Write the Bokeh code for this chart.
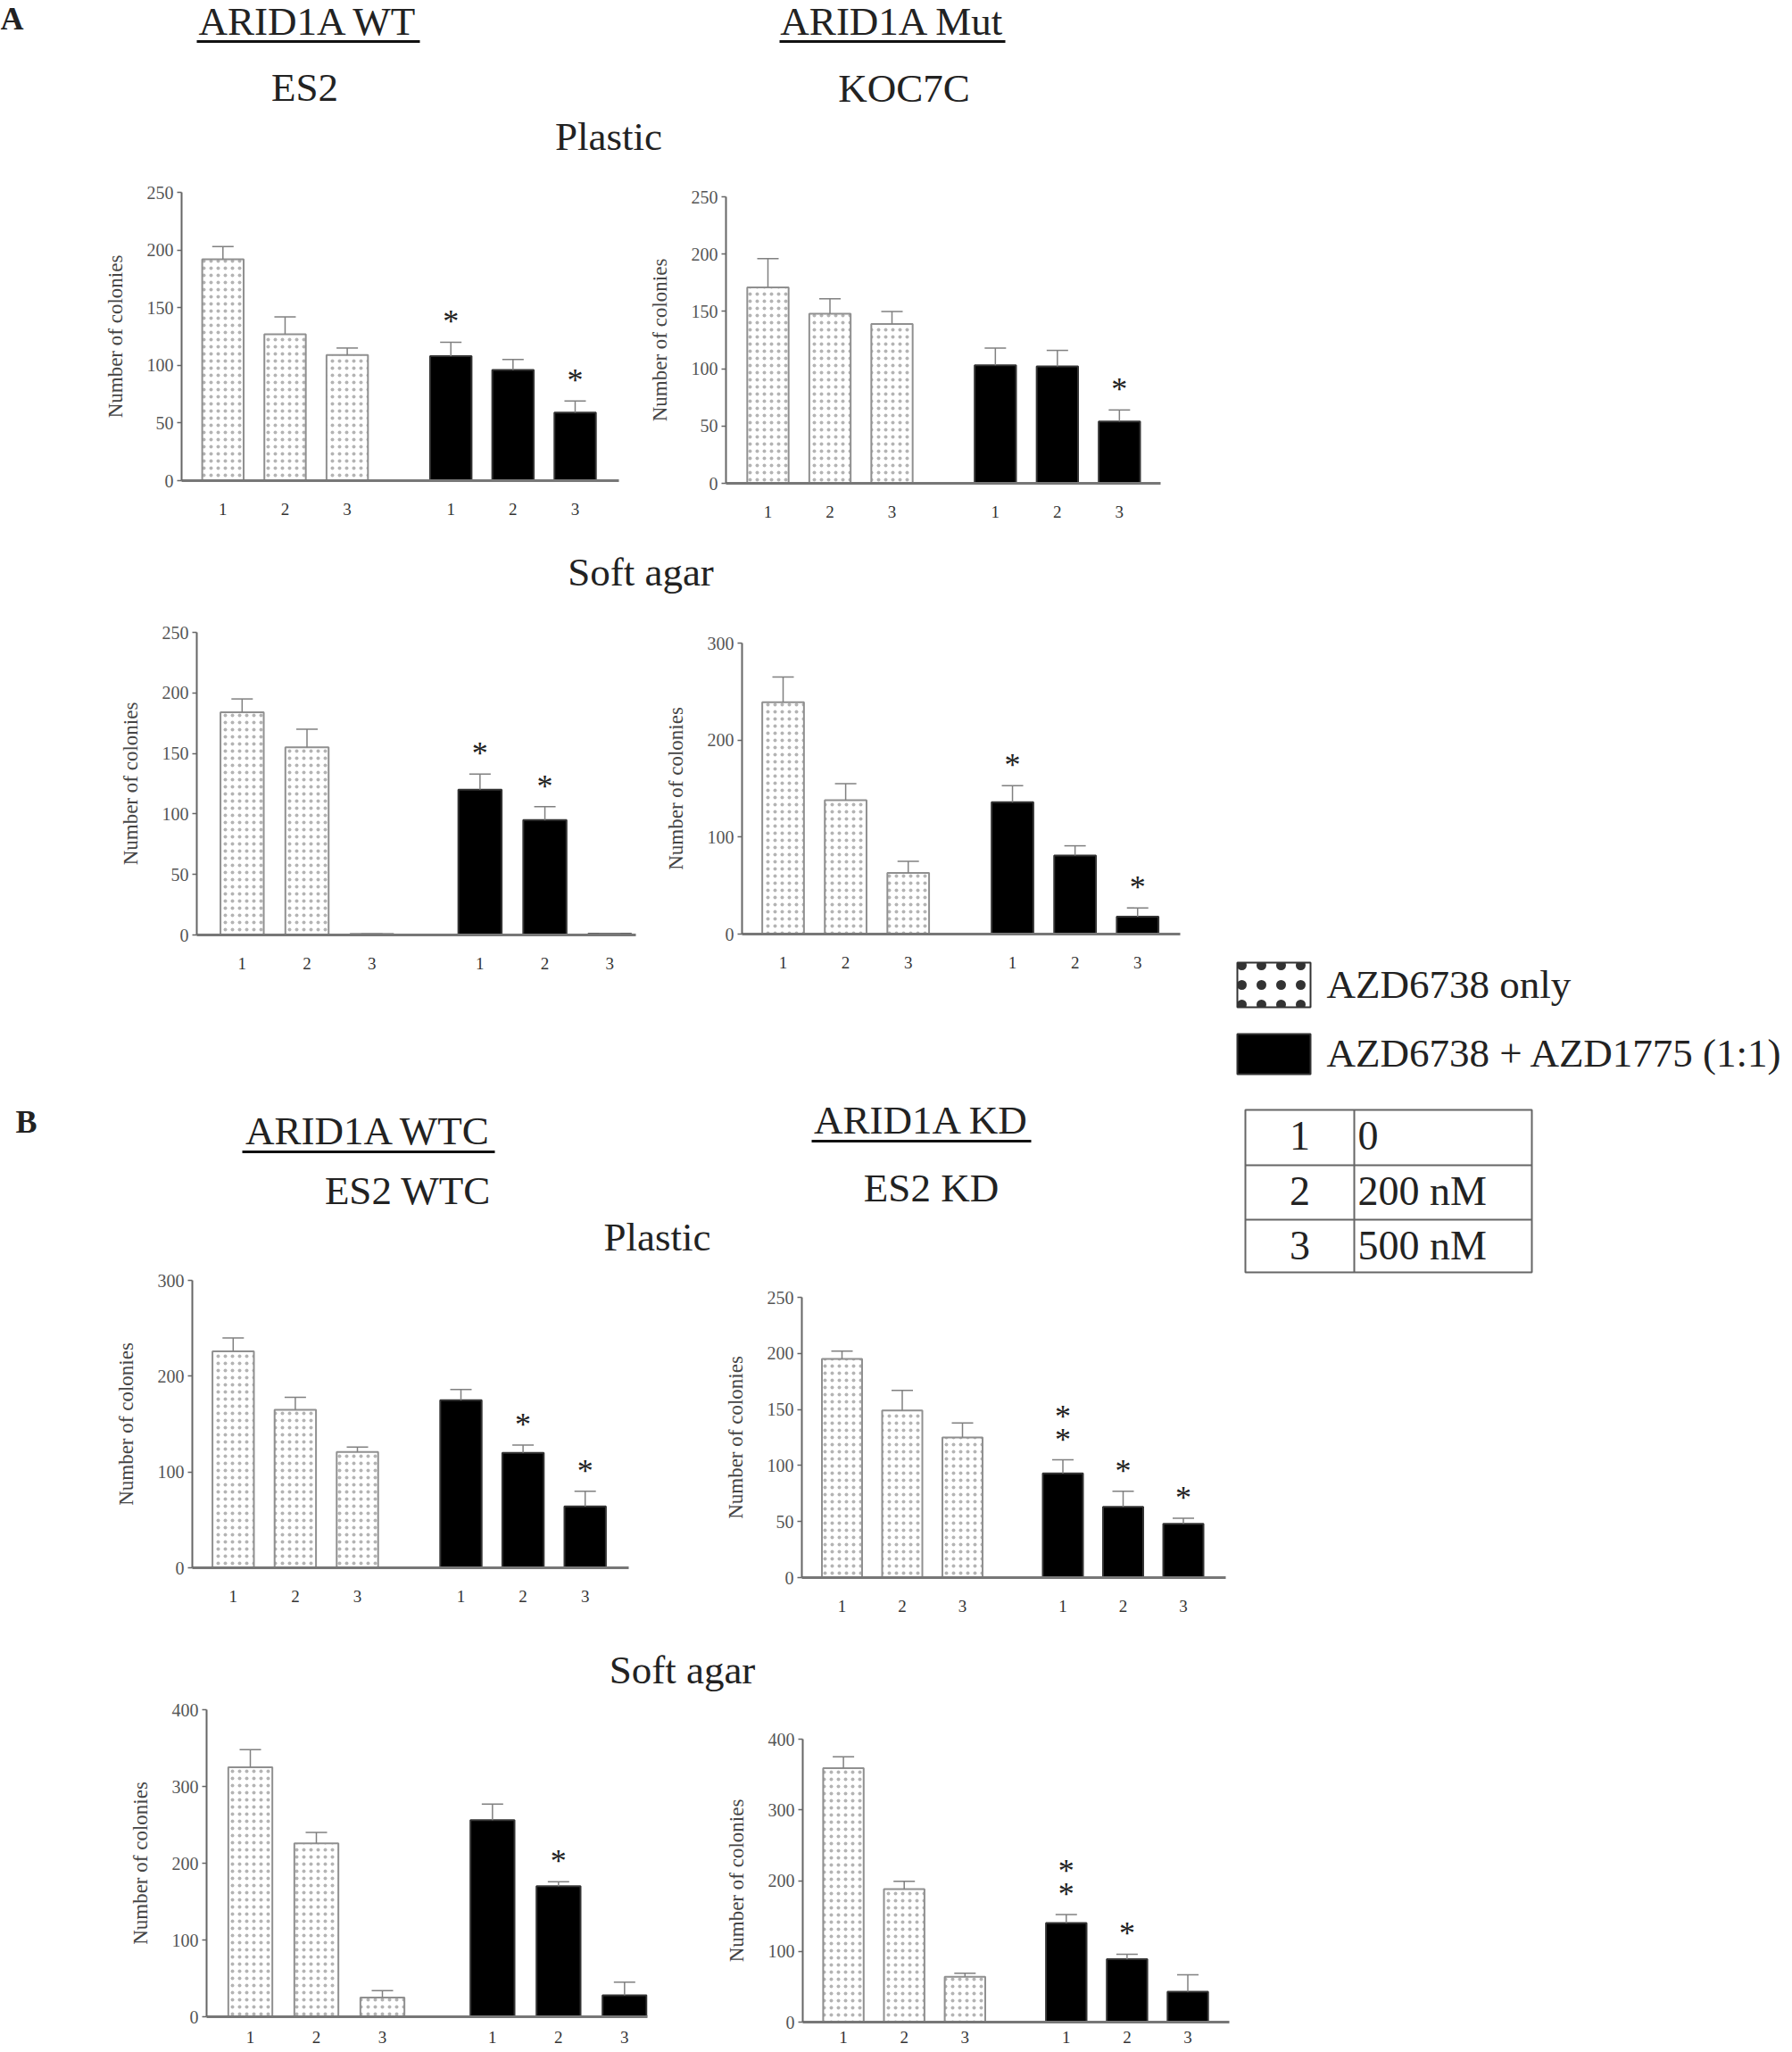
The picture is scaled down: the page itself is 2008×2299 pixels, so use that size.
from bokeh.plotting import figure
from bokeh.models import Range1d, FixedTicker, ColumnDataSource, Whisker, TeeHead, Spacer
from bokeh.layouts import row, column
from bokeh.embed import file_html
from bokeh.resources import INLINE
from bokeh.core.properties import value

FONT = "Liberation Serif"

# ---------------- data ----------------
doses = ["1", "2", "3"]
dose_values = ["0", "200 nM", "500 nM"]
treatments = ["AZD6738 only", "AZD6738 + AZD1775 (1:1)"]

# A: ES2 (ARID1A WT) plastic
es2_plastic_only = [192, 127, 109]
es2_plastic_only_err = [11, 15, 6]
es2_plastic_combo = [108, 96, 59]
es2_plastic_combo_err = [12, 9, 10]
es2_plastic_stars = [0, 0, 0, 1, 0, 1]

# A: KOC7C (ARID1A Mut) plastic
koc7c_plastic_only = [171, 148, 139]
koc7c_plastic_only_err = [25, 13, 11]
koc7c_plastic_combo = [103, 102, 54]
koc7c_plastic_combo_err = [15, 14, 10]
koc7c_plastic_stars = [0, 0, 0, 0, 0, 1]

# A: ES2 soft agar
es2_soft_only = [184, 155, 1]
es2_soft_only_err = [11, 15, 0]
es2_soft_combo = [120, 95, 1]
es2_soft_combo_err = [13, 11, 0]
es2_soft_stars = [0, 0, 0, 1, 1, 0]

# A: KOC7C soft agar
koc7c_soft_only = [239, 138, 63]
koc7c_soft_only_err = [26, 17, 12]
koc7c_soft_combo = [136, 81, 18]
koc7c_soft_combo_err = [17, 10, 9]
koc7c_soft_stars = [0, 0, 0, 1, 0, 1]

# B: ES2 WTC plastic
wtc_plastic_only = [226, 165, 121]
wtc_plastic_only_err = [14, 13, 5]
wtc_plastic_combo = [175, 120, 64]
wtc_plastic_combo_err = [11, 8, 16]
wtc_plastic_stars = [0, 0, 0, 0, 1, 1]

# B: ES2 KD plastic
kd_plastic_only = [195, 149, 125]
kd_plastic_only_err = [7, 18, 13]
kd_plastic_combo = [93, 63, 48]
kd_plastic_combo_err = [12, 14, 5]
kd_plastic_stars = [0, 0, 0, 2, 1, 1]

# B: ES2 WTC soft agar
wtc_soft_only = [325, 226, 25]
wtc_soft_only_err = [23, 14, 9]
wtc_soft_combo = [256, 170, 28]
wtc_soft_combo_err = [21, 6, 17]
wtc_soft_stars = [0, 0, 0, 0, 1, 0]

# B: ES2 KD soft agar
kd_soft_only = [359, 188, 64]
kd_soft_only_err = [16, 11, 5]
kd_soft_combo = [140, 89, 43]
kd_soft_combo_err = [12, 7, 24]
kd_soft_stars = [0, 0, 0, 2, 1, 0]

X_POS = [3, 6, 9, 14, 17, 20]
TOP_BORDER = 15


def base_fig(w, h, xr, yr, **kw):
    p = figure(width=w, height=h, x_range=xr, y_range=yr, output_backend="svg",
               toolbar_location=None, title=None, **kw)
    p.outline_line_color = None
    p.background_fill_color = "white"
    p.border_fill_color = "white"
    return p


def panel(only, only_err, combo, combo_err, stars, ymax, ystep, geo,
          col_left, col_right, band_top, band_bottom, bottom_border=55, xstand=25):
    L, R, c1, s, top, y0 = geo
    x0 = X_POS[0] - (c1 - L) / s * 3
    x1 = X_POS[0] + (R - c1) / s * 3
    fig_h = TOP_BORDER + (y0 - top) + bottom_border
    p = base_fig(col_right - col_left, fig_h, Range1d(x0, x1), Range1d(0, ymax),
                 min_border_left=L - col_left, min_border_right=col_right - R,
                 min_border_top=TOP_BORDER, min_border_bottom=bottom_border)
    p.grid.visible = False

    src_only = ColumnDataSource(dict(x=X_POS[:3], top=only,
                                     up=[v + e for v, e in zip(only, only_err)]))
    src_combo = ColumnDataSource(dict(x=X_POS[3:], top=combo,
                                      up=[v + e for v, e in zip(combo, combo_err)]))
    for src in (src_only, src_combo):
        p.add_layout(Whisker(base="x", lower="top", upper="up", source=src,
                             lower_head=None,
                             upper_head=TeeHead(size=24, line_color="#808080", line_width=1.5),
                             line_color="#808080", line_width=1.5, level="glyph"))
    p.vbar(x="x", top="top", bottom=0, width=2, source=src_only,
           fill_color="white", line_color="#909090", line_width=2,
           hatch_pattern="dot", hatch_scale=8, hatch_weight=1, hatch_color="#b4b4b4")
    p.vbar(x="x", top="top", bottom=0, width=2, source=src_combo,
           fill_color="black", line_color="#333", line_width=2)

    ups = [v + e for v, e in zip(only + combo, only_err + combo_err)]
    sx, sy, so = [], [], []
    for xv, uv, n in zip(X_POS, ups, stars):
        for k in range(n):
            sx.append(xv)
            sy.append(uv)
            so.append(-23 - 26 * k)
    p.text(x="x", y="y", y_offset="off", text="t",
           source=ColumnDataSource(dict(x=sx, y=sy, off=so, t=["*"] * len(sx))),
           text_font=value(FONT), text_font_size="36px", text_align="center",
           text_baseline="alphabetic", text_color="#222")

    xa = p.xaxis[0]
    xa.ticker = FixedTicker(ticks=X_POS)
    xa.major_label_overrides = {xv: d for xv, d in zip(X_POS, doses * 2)}
    xa.major_tick_line_color = None
    xa.major_tick_out = 0
    xa.major_tick_in = 0
    xa.minor_tick_line_color = None
    xa.axis_line_width = 3
    xa.axis_line_color = "#777"
    xa.major_label_text_font = FONT
    xa.major_label_text_font_size = "19px"
    xa.major_label_text_color = "#333"
    xa.major_label_standoff = xstand

    ya = p.yaxis[0]
    ya.ticker = FixedTicker(ticks=list(range(0, ymax + 1, ystep)))
    ya.minor_tick_line_color = None
    ya.major_tick_out = 5
    ya.major_tick_in = 0
    ya.major_tick_line_color = "#666"
    ya.major_tick_line_width = 1.5
    ya.axis_line_color = "#666"
    ya.axis_line_width = 2
    ya.major_label_text_font = FONT
    ya.major_label_text_font_size = "20px"
    ya.major_label_text_color = "#555"
    ya.major_label_standoff = 4
    ya.axis_label = "Number of colonies"
    ya.axis_label_text_font = FONT
    ya.axis_label_text_font_size = "23px"
    ya.axis_label_text_font_style = "normal"
    ya.axis_label_text_color = "#444"
    ya.axis_label_standoff = 20

    w = col_right - col_left
    above = top - TOP_BORDER - band_top
    below = band_bottom - (y0 + bottom_border)
    kids = []
    if above > 0:
        kids.append(Spacer(width=w, height=above))
    kids.append(p)
    if below > 0:
        kids.append(Spacer(width=w, height=below))
    return column(*kids)


def text_band(xl, xr, yt, yb):
    p = base_fig(xr - xl, yb - yt, Range1d(xl, xr), Range1d(yb, yt),
                 x_axis_type=None, y_axis_type=None,
                 min_border_left=0, min_border_right=0, min_border_top=0, min_border_bottom=0)
    p.grid.visible = False
    return p


def add_texts(p, xs, baselines, texts, size=45, align="center", style="normal"):
    # the renderer draws "alphabetic" text about 0.4 em low; compensate
    ys = [b - 0.4 * size for b in baselines]
    p.text(x=xs, y=ys, text=texts, text_font=value(FONT), text_font_size=f"{size}px",
           text_align=align, text_baseline="alphabetic", text_color="#222",
           text_font_style=style)


LEFT_X0, LEFT_X1 = 0, 1380

# header A
hA = text_band(LEFT_X0, LEFT_X1, 0, 195)
add_texts(hA, [0], [35], ["A"], size=36, align="left", style="bold")
add_texts(hA, [345, 999.5, 341, 1012.5, 681.5], [41, 41, 115, 116, 170],
          ["ARID1A WT", "ARID1A Mut", "ES2", "KOC7C", "Plastic"])
hA.segment(x0=[220, 873], y0=[46, 46], x1=[470, 1126], y1=[46, 46], line_width=3, line_color="#111")

# row A plastic
A1 = panel(es2_plastic_only, es2_plastic_only_err, es2_plastic_combo, es2_plastic_combo_err,
           es2_plastic_stars, 250, 50, (203, 693, 249.3, 69.65, 215, 538), 0, 700, 195, 600)
A2 = panel(koc7c_plastic_only, koc7c_plastic_only_err, koc7c_plastic_combo, koc7c_plastic_combo_err,
           koc7c_plastic_stars, 250, 50, (813, 1300, 860, 69.5, 220, 541), 700, 1380, 195, 600)

sA = text_band(LEFT_X0, LEFT_X1, 600, 690)
add_texts(sA, [717.5], [658], ["Soft agar"])

A3 = panel(es2_soft_only, es2_soft_only_err, es2_soft_combo, es2_soft_combo_err,
           es2_soft_stars, 250, 50, (220, 712, 270.8, 72.7, 708, 1047), 0, 720, 690, 1100)
A4 = panel(koc7c_soft_only, koc7c_soft_only_err, koc7c_soft_combo, koc7c_soft_combo_err,
           koc7c_soft_stars, 300, 100, (831, 1322, 877, 70.1, 720, 1046), 720, 1380, 690, 1100)

# header B
hB = text_band(LEFT_X0, LEFT_X1, 1100, 1415)
add_texts(hB, [17], [1269], ["B"], size=36, align="left", style="bold")
add_texts(hB, [412.5, 456.5, 1032, 1043, 736], [1282, 1349, 1270, 1346, 1401],
          ["ARID1A WTC", "ES2 WTC", "ARID1A KD", "ES2 KD", "Plastic"])
hB.segment(x0=[271, 909], y0=[1288, 1276], x1=[554, 1155], y1=[1288, 1276], line_width=3, line_color="#111")

B1 = panel(wtc_plastic_only, wtc_plastic_only_err, wtc_plastic_combo, wtc_plastic_combo_err,
           wtc_plastic_stars, 300, 100, (215, 704, 260.8, 69.6, 1432, 1754), 0, 712, 1415, 1830)
B2 = panel(kd_plastic_only, kd_plastic_only_err, kd_plastic_combo, kd_plastic_combo_err,
           kd_plastic_stars, 250, 50, (898, 1373, 943, 67.5, 1451, 1765), 712, 1380, 1415, 1830)

sB = text_band(LEFT_X0, LEFT_X1, 1830, 1895)
add_texts(sB, [764], [1886], ["Soft agar"])

B3 = panel(wtc_soft_only, wtc_soft_only_err, wtc_soft_combo, wtc_soft_combo_err,
           wtc_soft_stars, 400, 100, (231, 725, 280, 74, 1913, 2257), 0, 735, 1895, 2298,
           bottom_border=41, xstand=16)
B4 = panel(kd_soft_only, kd_soft_only_err, kd_soft_combo, kd_soft_combo_err,
           kd_soft_stars, 400, 100, (899, 1377, 944.6, 68.1, 1946, 2263), 735, 1380, 1895, 2298,
           bottom_border=35, xstand=10)

# legend + dose table
lg = text_band(1380, 2000, 1070, 1435)
lg.quad(left=[1386], right=[1468], top=[1078], bottom=[1128], fill_color="white",
        line_color="#333", line_width=2, hatch_pattern="dot", hatch_scale=22,
        hatch_weight=1.6, hatch_color="#333")
lg.quad(left=[1386], right=[1468], top=[1158], bottom=[1203], fill_color="black",
        line_color="#333", line_width=2)
add_texts(lg, [1486, 1486], [1120, 1197], treatments, size=45, align="left")
lg.quad(left=[1395], right=[1716], top=[1243], bottom=[1425], fill_color=None,
        line_color="#666", line_width=2)
lg.segment(x0=[1395, 1395, 1517], y0=[1305, 1366, 1243], x1=[1716, 1716, 1517],
           y1=[1305, 1366, 1425], line_color="#666", line_width=2)
add_texts(lg, [1456, 1456, 1456], [1290, 1352, 1413], doses, size=46, align="center")
add_texts(lg, [1521, 1521, 1521], [1290, 1352, 1413], dose_values, size=46, align="left")

left_col = column(hA, row(A1, A2), sA, row(A3, A4), hB, row(B1, B2), sB, row(B3, B4))
right_col = column(Spacer(width=620, height=1070), lg)
layout = row(left_col, right_col)

open("out.html", "w").write(file_html(layout, INLINE))
